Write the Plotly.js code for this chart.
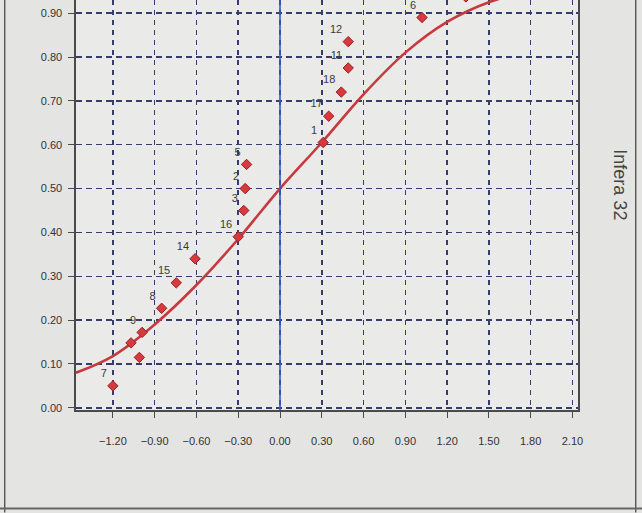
<!DOCTYPE html>
<html>
<head>
<meta charset="utf-8">
<script src="https://cdn.plot.ly/plotly-3.0.1.min.js"></script>
<style>
  html, body { margin: 0; padding: 0; background: #e4e4e2; }
  #chart { width: 642px; height: 513px; }
</style>
</head>
<body>
<div id="chart"></div>
<script>
// Observed item points (x = ability, y = proportion) and their labels
const pointX = [-1.20, -1.07, -1.01, -0.99, -0.85, -0.745, -0.61, -0.30, -0.26, -0.25, -0.24, 0.31, 0.35, 0.44, 0.49, 0.49, 1.02, 1.335];
const pointY = [0.05, 0.148, 0.115, 0.172, 0.227, 0.285, 0.34, 0.39, 0.45, 0.50, 0.555, 0.605, 0.665, 0.72, 0.775, 0.835, 0.89, 0.937];
const pointLabels = ["7", "", "", "9", "8", "15", "14", "16", "3", "2", "5", "1", "17", "18", "11", "12", "6", ""];

// Fitted curve at grid positions
const curveX = [-1.465, -1.20, -0.90, -0.60, -0.30, 0.00, 0.30, 0.60, 0.90, 1.20, 1.50, 1.80, 2.14];
const curveY = [0.08, 0.118, 0.19, 0.28, 0.385, 0.50, 0.605, 0.715, 0.81, 0.88, 0.925, 0.95, 0.965];

// Reference line position
const refLineX = 0.0;
const sideText = "Infera 32";

const gridColor = "#363c6c";

const traces = [
  {
    x: curveX, y: curveY, type: "scatter", mode: "lines",
    line: { color: "#c8393f", width: 2.6, shape: "spline", smoothing: 1.0 },
    hoverinfo: "skip", showlegend: false
  },
  {
    x: pointX, y: pointY, text: pointLabels, type: "scatter", mode: "markers+text",
    textposition: "top left",
    textfont: { family: "Liberation Sans, Arial, sans-serif", size: 11, color: "#3a3a3a" },
    marker: { symbol: "diamond", size: 8, color: "#d63a3e", line: { color: "#9a1f24", width: 1 } },
    cliponaxis: true, showlegend: false
  }
];

const layout = {
  width: 642, height: 513,
  margin: { l: 76, r: 64, t: 0, b: 103 },
  paper_bgcolor: "#e4e4e2",
  plot_bgcolor: "#eaeae9",
  showlegend: false,
  font: { family: "Liberation Sans, Arial, sans-serif", color: "#333" },
  xaxis: {
    range: [-1.465, 2.14],
    tick0: -1.2, dtick: 0.3, tickformat: ".2f",
    showgrid: true, gridcolor: gridColor, griddash: "5px,5px", gridwidth: 1.5,
    zeroline: false,
    showline: true, linecolor: "#4a4a4a", linewidth: 1.6, mirror: false,
    ticks: "outside", ticklen: 6, tickcolor: "#4a4a4a",
    ticklabelstandoff: 14,
    tickfont: { family: "Liberation Sans Narrow, Liberation Sans, Arial, sans-serif", size: 11, color: "#333" }
  },
  yaxis: {
    range: [-0.005, 0.93],
    tick0: 0, dtick: 0.1, tickformat: ".2f",
    showgrid: true, gridcolor: gridColor, griddash: "6px,4px", gridwidth: 1.5,
    zeroline: false,
    showline: true, linecolor: "#4a4a4a", linewidth: 1.6, mirror: true,
    ticks: "outside", ticklen: 6, tickcolor: "#4a4a4a",
    ticklabelstandoff: 4,
    tickfont: { family: "Liberation Sans Narrow, Liberation Sans, Arial, sans-serif", size: 11, color: "#333" }
  },
  shapes: [
    { type: "line", xref: "x", yref: "paper", x0: refLineX, x1: refLineX, y0: 0, y1: 1,
      line: { color: "#3553c4", width: 1.6 } },
    { type: "line", xref: "paper", yref: "paper", x0: 1.115, x1: 1.115, y0: -0.25, y1: 1.01,
      line: { color: "#555", width: 1.4 } },
    { type: "line", xref: "paper", yref: "paper", x0: -0.142, x1: -0.142, y0: -0.25, y1: 1.01,
      line: { color: "#555", width: 1.4 } },
    { type: "line", xref: "paper", yref: "paper", x0: -0.16, x1: 1.14, y0: -0.24, y1: -0.24,
      line: { color: "#666", width: 2 } }
  ],
  annotations: [
    { text: sideText, xref: "paper", yref: "paper", x: 1.082, y: 0.55,
      xanchor: "center", yanchor: "middle",
      showarrow: false, textangle: 90,
      font: { family: "Liberation Sans, Arial, sans-serif", size: 18, color: "#444" } }
  ]
};

Plotly.newPlot("chart", traces, layout, { displayModeBar: false, staticPlot: true });
</script>
</body>
</html>
